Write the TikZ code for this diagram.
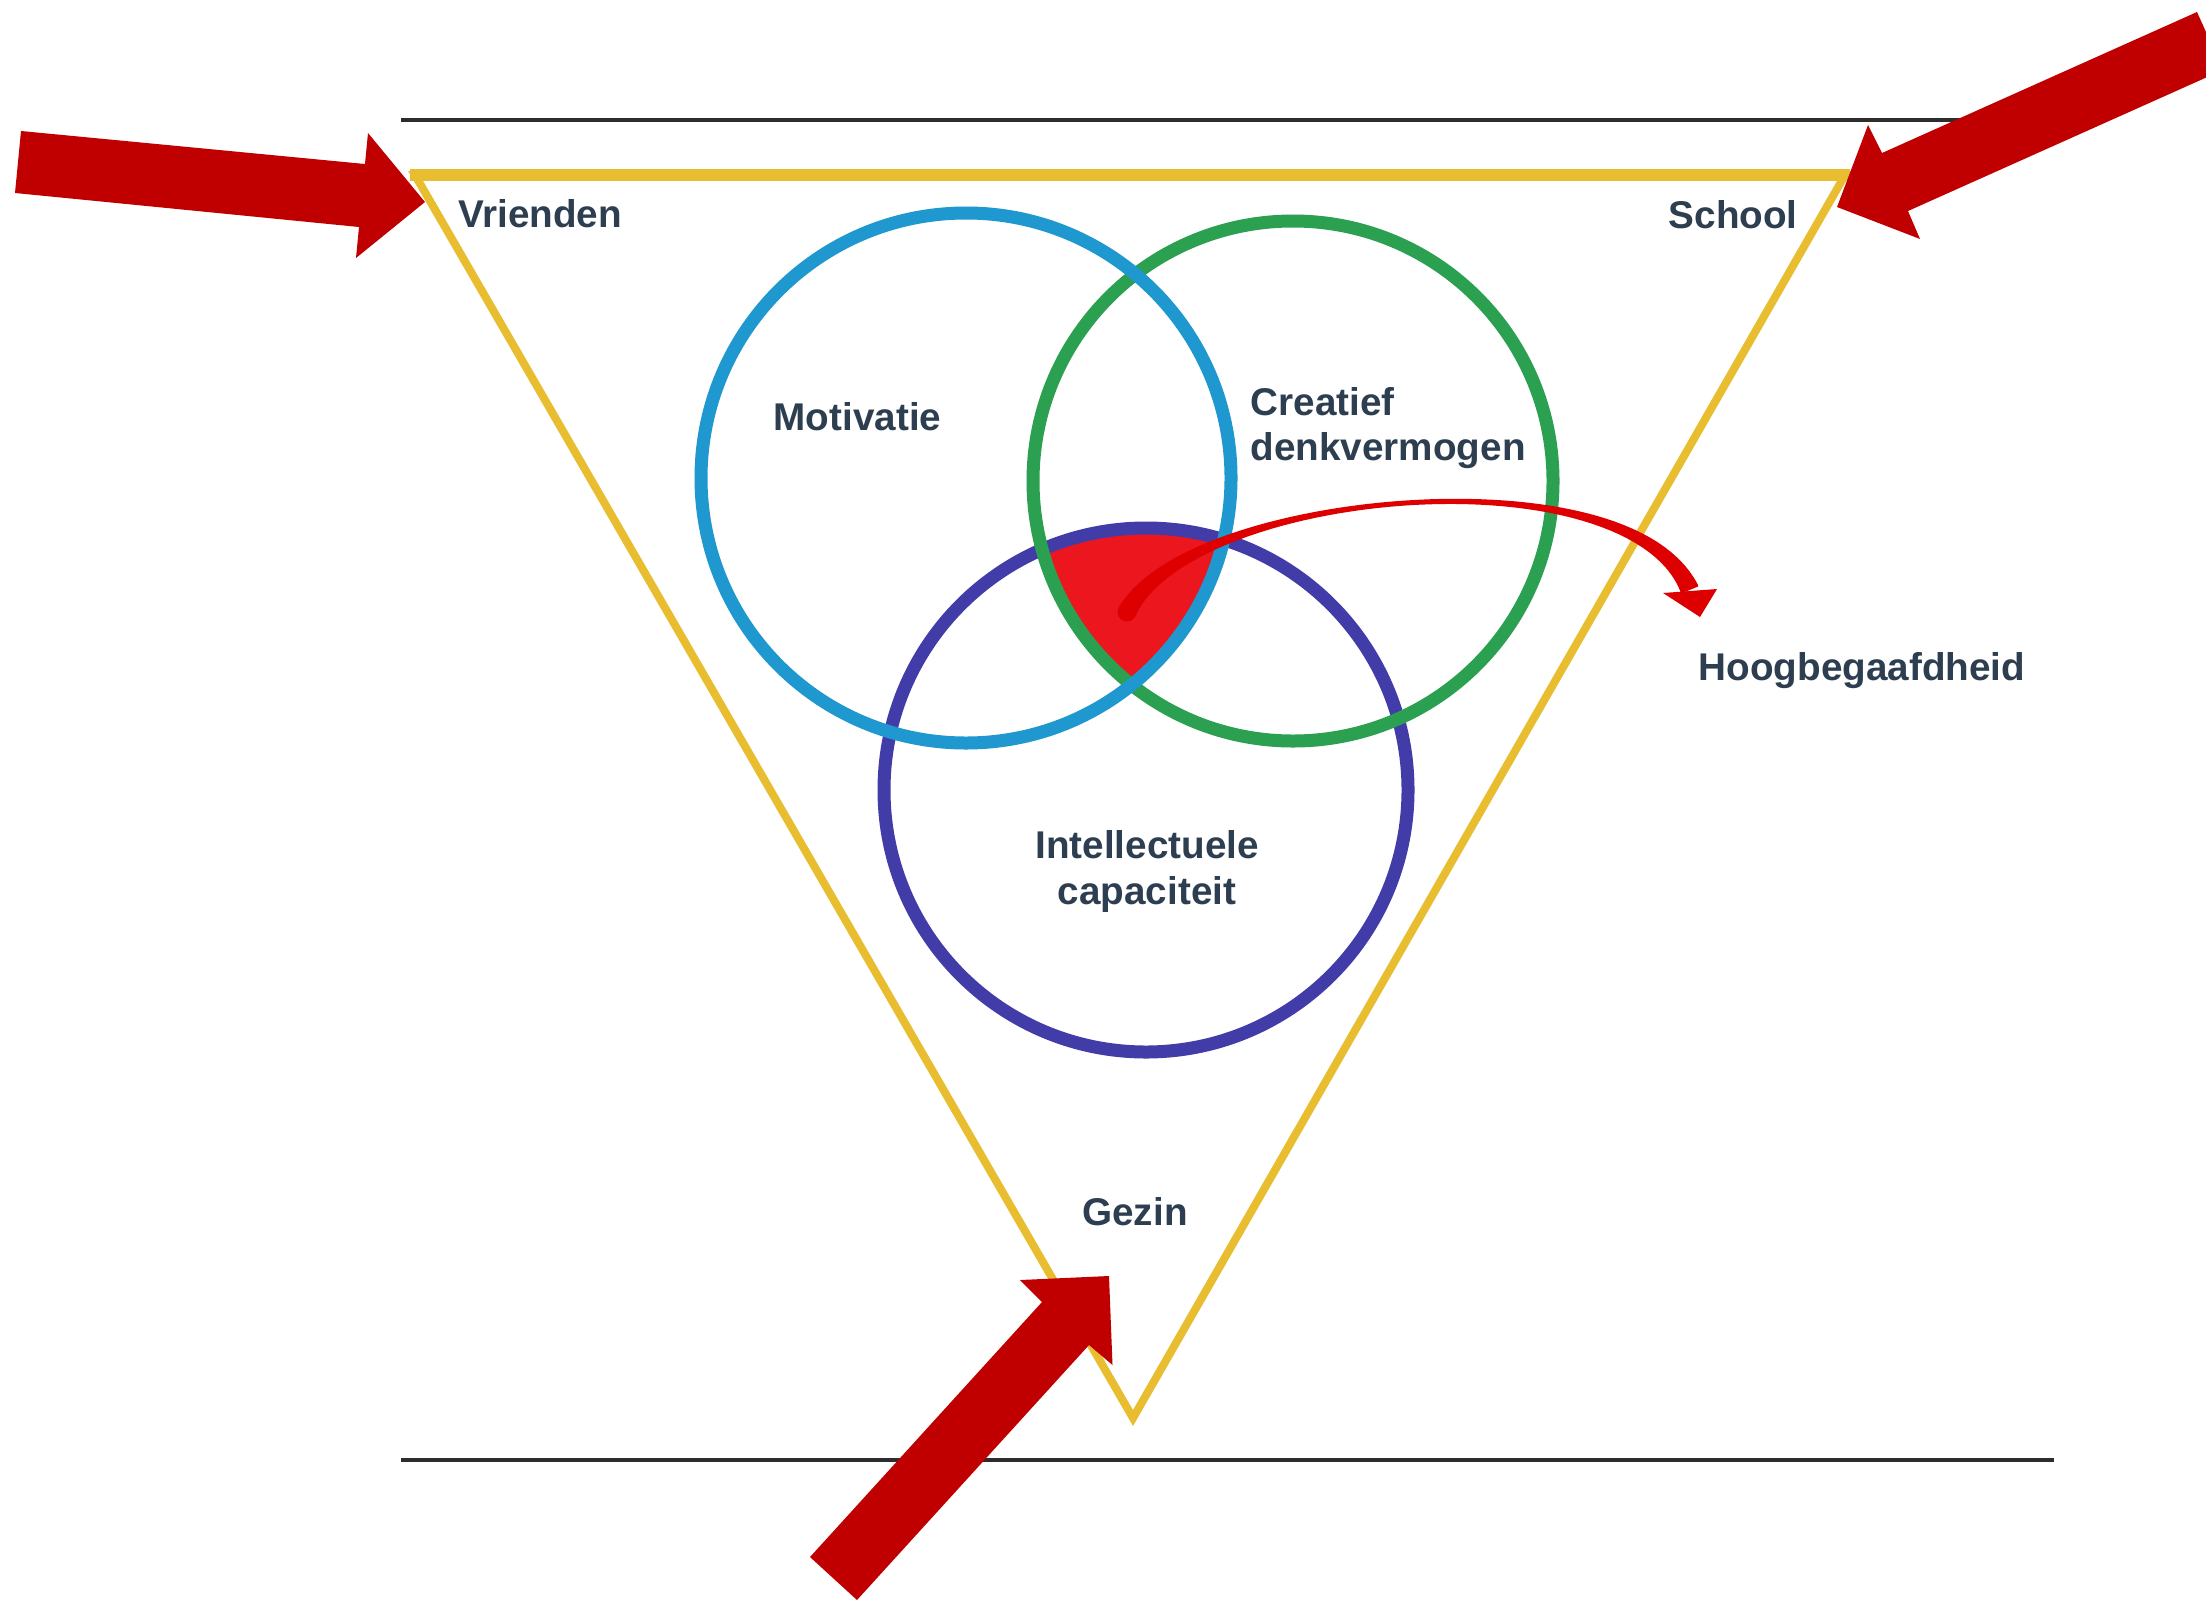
\documentclass[tikz,border=0pt]{standalone}
\usepackage{fontspec}
\setmainfont{Liberation Sans}
\usetikzlibrary{arrows.meta}
\definecolor{tri}{RGB}{232,190,48}
\definecolor{cblue}{RGB}{30,152,206}
\definecolor{cgreen}{RGB}{42,160,80}
\definecolor{cpurple}{RGB}{66,60,168}
\definecolor{bigred}{RGB}{192,0,0}
\definecolor{fillred}{RGB}{236,22,30}
\definecolor{arrred}{RGB}{222,0,0}
\definecolor{arrmid}{RGB}{110,80,80}
\definecolor{txt}{RGB}{45,62,80}
\definecolor{rulecol}{RGB}{45,45,45}
\begin{document}
\begin{tikzpicture}[x=1cm,y=-1cm,
  lbl/.style={font=\fontsize{11}{13.2}\selectfont\bfseries, text=txt, inner sep=0pt},
  ring/.style={line width=0.13cm},
  rulestyle/.style={draw=rulecol, line width=1pt},
  bigarrow/.style={fill=bigred},
  declare function={
    omt(\t)=1-\t;
    bx(\t)=omt(\t)*omt(\t)*omt(\t)*11.27+3*omt(\t)*omt(\t)*\t*11.9+3*omt(\t)*\t*\t*16.3+\t*\t*\t*16.9;
    by(\t)=omt(\t)*omt(\t)*omt(\t)*6.12+3*omt(\t)*omt(\t)*\t*4.9+3*omt(\t)*\t*\t*4.5+\t*\t*\t*5.9;
    dbx(\t)=3*omt(\t)*omt(\t)*0.63+6*omt(\t)*\t*4.4+3*\t*\t*0.6;
    dby(\t)=3*omt(\t)*omt(\t)*(-1.22)+6*omt(\t)*\t*(-0.4)+3*\t*\t*1.4;
    hw(\t)=0.025+0.07*(2*\t-1)*(2*\t-1);
    nx(\t)=-dby(\t)/veclen(dbx(\t),dby(\t));
    ny(\t)=dbx(\t)/veclen(dbx(\t),dby(\t));
  }]
\useasboundingbox (0,0) rectangle (22.06,15.99);
\clip (0,0) rectangle (22.06,15.99);
\fill[white] (0,0) rectangle (22.06,15.99);

% horizontal rules
\coordinate (rt1) at (4.01,1.20);
\coordinate (rt2) at (20.54,1.20);
\coordinate (rb1) at (4.01,14.60);
\coordinate (rb2) at (20.54,14.60);
\draw[rulestyle] (rt1) -- (rt2);
\draw[rulestyle, line width=1.2pt] (rb1) -- (rb2);

% triangle
\coordinate (tl) at (4.15,1.75);
\coordinate (tr) at (18.45,1.75);
\coordinate (tb) at (11.33,14.18);
\draw[tri, line width=0.08cm, line join=miter] (tl) -- (tr) -- (tb) -- cycle;
\draw[tri, line width=0.12cm] (4.10,1.75) -- (18.50,1.75);

% circle centres
\coordinate (cM) at (9.66,4.78);
\coordinate (cC) at (12.93,4.81);
\coordinate (cI) at (11.46,7.90);

% triple intersection
\begin{scope}
  \clip (cM) circle[radius=2.65cm];
  \clip (cC) circle[radius=2.60cm];
  \fill[fillred] (cI) circle[radius=2.62cm];
\end{scope}

\draw[ring, cpurple] (cI) circle[radius=2.62cm];
\draw[ring, cgreen] (cC) circle[radius=2.60cm];
\draw[ring, cblue] (cM) circle[radius=2.65cm];

% labels
\node[lbl, anchor=base west] (vrienden) at (4.58,2.27) {Vrienden};
\node[lbl, anchor=base west] (school) at (16.68,2.28) {School};
\node[lbl, anchor=base west] (motivatie) at (7.73,4.30) {Motivatie};
\node[lbl, anchor=base west] (creatief) at (12.50,4.15) {Creatief};
\node[lbl, anchor=base west] (denk) at (12.50,4.60) {denkvermogen};
\node[lbl, anchor=base] (intel) at (11.47,8.58) {Intellectuele};
\node[lbl, anchor=base] (capac) at (11.47,9.04) {capaciteit};
\node[lbl, anchor=base] (gezin) at (11.35,12.25) {Gezin};
\node[lbl, anchor=base west] (hoog) at (16.98,6.80) {Hoogbegaafdheid};

% curved tapered arrow
\coordinate (astart) at (11.27,6.12);
\shade[left color=arrred, middle color=arrmid, right color=arrred]
  plot[domain=0:1, samples=60, variable=\t] ({bx(\t)+hw(\t)*nx(\t)},{by(\t)+hw(\t)*ny(\t)})
  -- plot[domain=1:0, samples=60, variable=\t] ({bx(\t)-hw(\t)*nx(\t)},{by(\t)-hw(\t)*ny(\t)})
  -- cycle;
\fill[arrred] (astart) circle[radius=0.95mm];
\coordinate (hl) at (16.63,5.93);
\coordinate (hr) at (17.17,5.89);
\coordinate (htip) at (17.00,6.17);
\fill[arrred] (hl) -- (hr) -- (htip) -- cycle;

% big red arrows
\fill[bigarrow] (0.21,1.31) -- (3.65,1.64) -- (3.68,1.33) -- (4.25,2.02) -- (3.56,2.58) -- (3.59,2.27) -- (0.15,1.93) -- cycle;
\fill[bigarrow] (21.97,0.12) -- (18.82,1.53) -- (18.68,1.25) -- (18.37,2.07) -- (19.20,2.39) -- (19.08,2.11) -- (22.23,0.70) -- cycle;
\fill[bigarrow] (11.09,12.76) -- (10.20,12.80) -- (10.42,13.02) -- (8.10,15.57) -- (8.57,16.00) -- (10.89,13.45) -- (11.125,13.65) -- cycle;
\end{tikzpicture}
\end{document}
